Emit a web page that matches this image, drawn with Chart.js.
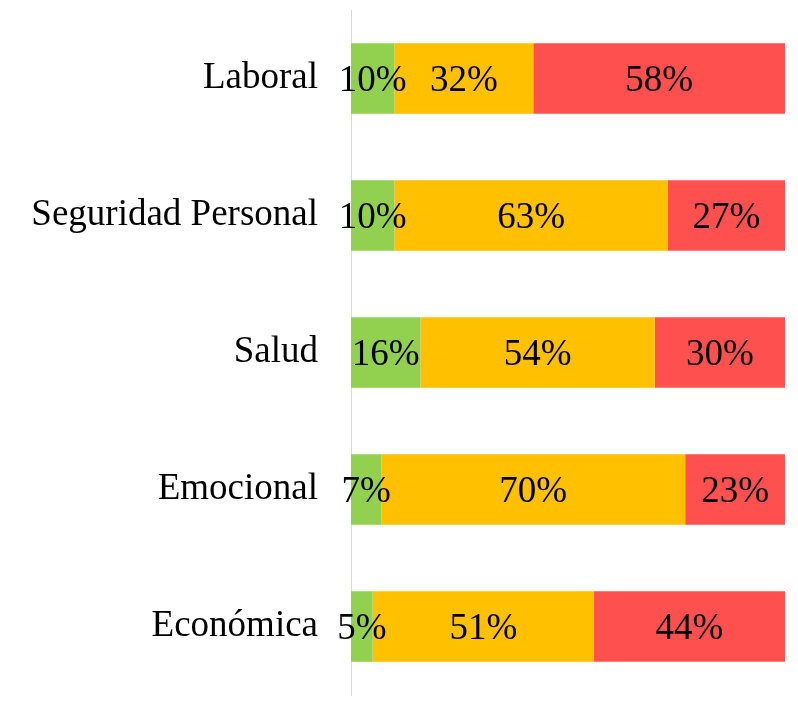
<!DOCTYPE html>
<html>
<head>
<meta charset="utf-8">
<script src="https://cdn.jsdelivr.net/npm/chart.js@4/dist/chart.umd.min.js"></script>
<style>
  html, body { margin: 0; padding: 0; background: #fff; overflow: hidden; }
  canvas { display: block; }
</style>
</head>
<body>
<canvas id="chart" width="798" height="704"></canvas>
<script>
const categories = ['Laboral', 'Seguridad Personal', 'Salud', 'Emocional', 'Económica'];
const verde = [10, 10, 16, 7, 5];
const amarillo = [32, 63, 54, 70, 51];
const rojo = [58, 27, 30, 23, 44];

const FONT = '"Liberation Serif", "Times New Roman", serif';

// etiquetas de porcentaje centradas en cada segmento
const centerLabels = {
    id: 'centerLabels',
    afterDatasetsDraw(chart) {
        const ctx = chart.ctx;
        ctx.save();
        ctx.font = '37px ' + FONT;
        ctx.fillStyle = '#000';
        ctx.textAlign = 'center';
        ctx.textBaseline = 'middle';
        chart.data.datasets.forEach((ds, i) => {
            chart.getDatasetMeta(i).data.forEach((bar, j) => {
                const p = bar.getProps(['x', 'y', 'base'], true);
                ctx.fillText(ds.data[j] + '%', (p.x + p.base) / 2, p.y + 3);
            });
        });
        ctx.restore();
    }
};

new Chart(document.getElementById('chart'), {
    type: 'bar',
    data: {
        labels: categories,
        datasets: [
            { label: 'Verde', data: verde, backgroundColor: '#92D050' },
            { label: 'Amarillo', data: amarillo, backgroundColor: '#FFC000' },
            { label: 'Rojo', data: rojo, backgroundColor: '#FF5050' }
        ]
    },
    options: {
        indexAxis: 'y',
        responsive: false,
        animation: false,
        layout: { padding: { top: 10, bottom: 9, right: 13, left: 0 } },
        datasets: { bar: { barPercentage: 1, categoryPercentage: 0.515 } },
        plugins: {
            legend: { display: false },
            tooltip: { enabled: false }
        },
        scales: {
            x: {
                stacked: true,
                min: 0,
                max: 100,
                display: false
            },
            y: {
                stacked: true,
                grid: { display: false, drawTicks: false },
                border: { display: true, color: '#d9d9d9', width: 1 },
                ticks: {
                    color: '#000',
                    padding: 33,
                    font: { family: FONT, size: 37 }
                },
                afterFit: (scale) => {
                    scale.width = 351;
                    scale.paddingTop = 0;
                    scale.paddingBottom = 0;
                }
            }
        }
    },
    plugins: [centerLabels]
});
</script>
</body>
</html>
